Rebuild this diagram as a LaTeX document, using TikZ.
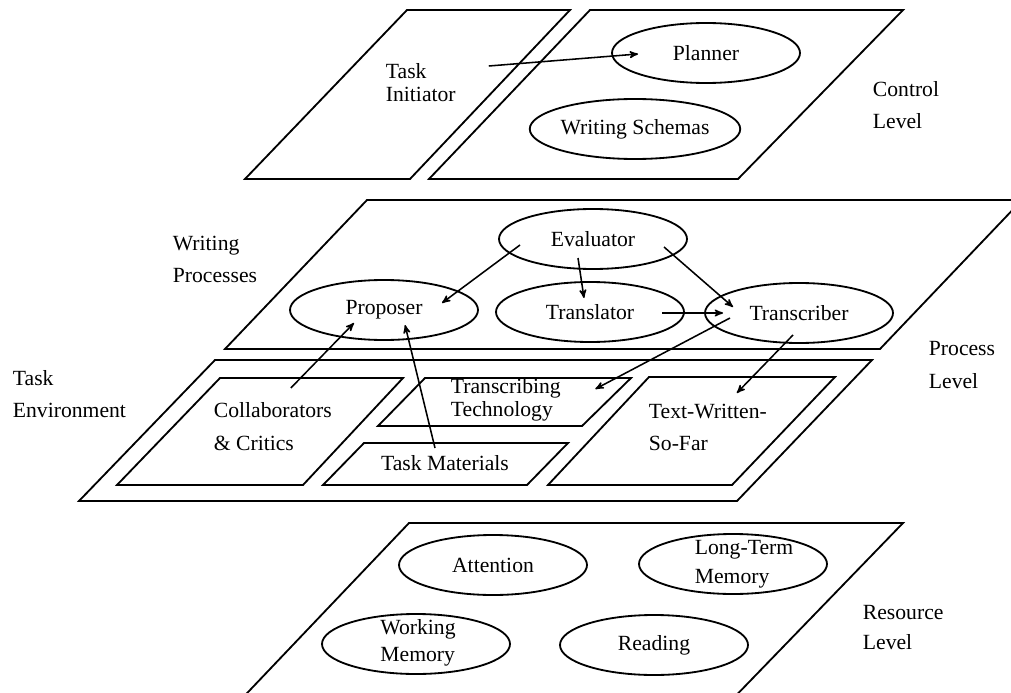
\documentclass[tikz,border=0pt]{standalone}
\usepackage{fontspec}
\setmainfont{Liberation Serif}
\usetikzlibrary{arrows}
\usetikzlibrary{shapes.geometric}

\begin{document}
\begin{tikzpicture}[x=0.25mm,y=-0.25mm,>=stealth',line width=1.3pt,
  every node/.style={font=\fontsize{15.4}{22.8}\selectfont,inner sep=0pt},
  proc node/.style={ellipse,draw,minimum width=47mm,minimum height=15mm},
  level text/.style={align=left,anchor=west},
  tight text/.style={align=left,anchor=west,font=\fontsize{15.4}{16.4}\selectfont}]

\useasboundingbox (0,0) rectangle (1011,693);
\clip (0,0) rectangle (1011,693);

% planes
\draw (407,10) -- (570,10) -- (410,179) -- (245,179) -- cycle;
\draw (590,10) -- (903,10) -- (738,179) -- (429,179) -- cycle;
\draw (367,200) -- (1022,200) -- (880,349) -- (225,349) -- cycle;
\draw (215,360) -- (872,360) -- (737,501) -- (79,501) -- cycle;
\draw (220,378) -- (403,378) -- (303,485) -- (117,485) -- cycle;
\draw (425,378) -- (631,378) -- (582,426) -- (378,426) -- cycle;
\draw (364,443) -- (568,443) -- (527,485) -- (323,485) -- cycle;
\draw (649,377) -- (835,377) -- (732,485) -- (548,485) -- cycle;
\draw (409,523) -- (903,523) -- (722,710) -- (231,710) -- cycle;

% control level
\node[tight text] (init) at (385,82.5) {Task\\Initiator};
\node[proc node] (planner) at (706,53) {Planner};
\node[proc node] (schemas) at (635,129) {Writing Schemas};
\node[level text] (control) at (872,105) {Control\\Level};

% process level
\node[level text] (writing) at (172,259) {Writing\\Processes};
\node[proc node] (eval) at (593,239) {Evaluator};
\node[proc node] (prop) at (384,310) {Proposer};
\node[proc node] (transl) at (590,312) {Translator};
\node[proc node] (transc) at (799,313) {Transcriber};
\node[level text] (process) at (928,365) {Process\\Level};

\node[level text] (taskenv) at (12,394) {Task\\Environment};
\node[level text,font=\fontsize{15.4}{23.5}\selectfont] (collab) at (213,426.5) {Collaborators\\\& Critics};
\node[tight text] (tech) at (450,399.5) {Transcribing\\Technology};
\node (mat) at (445,463) {Task Materials};
\node[level text] (sofar) at (648,427) {Text-Written-\\So-Far};

% resource level
\node[proc node] (attn) at (493,565) {Attention};
\node[proc node] (ltm) at (733,564) {};
\node[align=left,font=\fontsize{15.4}{20.6}\selectfont] (ltm-t) at ([xshift=2.75mm]ltm.center) {Long-Term\\Memory};
\node[proc node] (wm) at (416,644) {};
\node[align=left,font=\fontsize{15.4}{19.2}\selectfont] (wm-t) at ([shift={(2,-1.5)}]wm.center) {Working\\Memory};
\node[proc node] (read) at (654,645) {Reading};
\node[level text,font=\fontsize{15.4}{22}\selectfont] (resource) at (862,627.5) {Resource\\Level};

\path[->,line width=1.1pt]
([shift={(68,-16.5)}]init.center)   edge ([shift={(-68,1)}]planner.center)
([shift={(-73,6)}]eval.center)      edge ([shift={(58,-7)}]prop.center)
([shift={(-15,19)}]eval.center)     edge ([shift={(-6,-14)}]transl.center)
([shift={(71,8)}]eval.center)       edge ([shift={(-66,-6)}]transc.center)
([shift={(72,1)}]transl.center)     edge ([shift={(-76,0)}]transc.center)
([shift={(-69,5)}]transc.center)    edge ([shift={(89.5,-10.5)}]tech.center)
([shift={(-6,22)}]transc.center)    edge ([shift={(29,-34)}]sofar.center)
([shift={(18,-38.5)}]collab.center) edge ([shift={(-30,13)}]prop.center)
([shift={(-10,-15)}]mat.center)     edge ([shift={(21,15)}]prop.center)
;
\end{tikzpicture}
\end{document}
